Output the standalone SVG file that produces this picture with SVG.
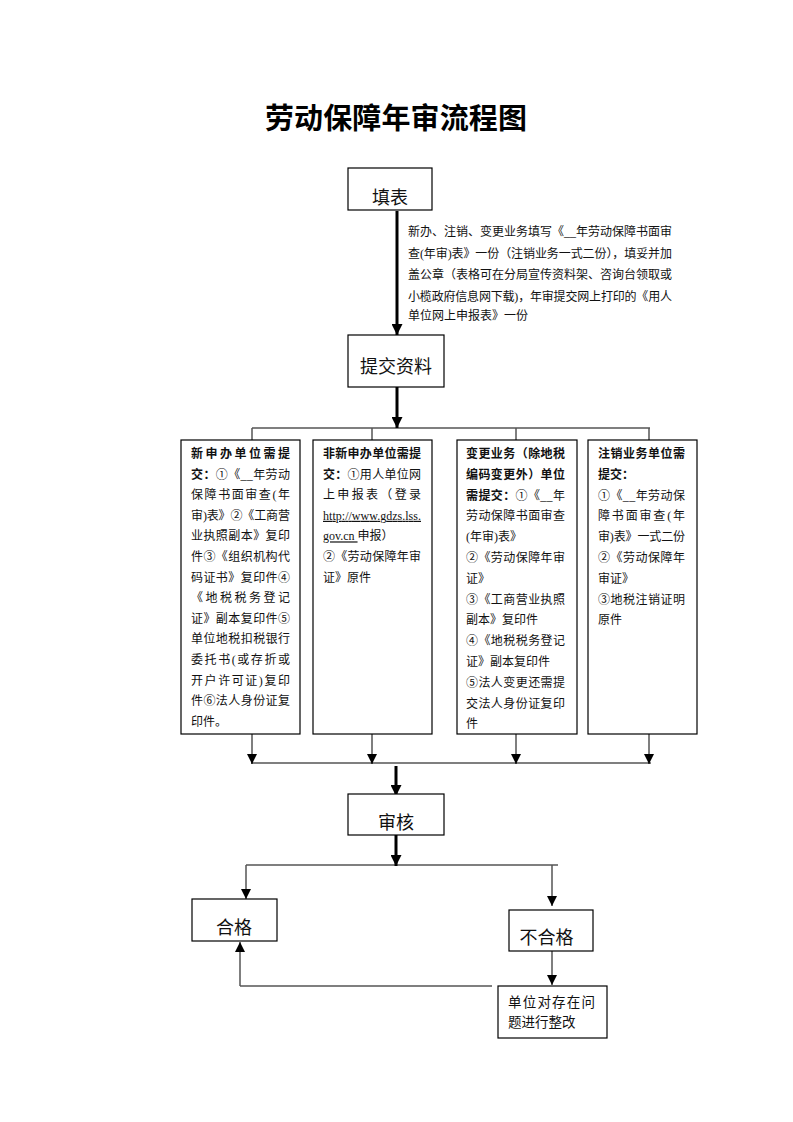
<svg xmlns="http://www.w3.org/2000/svg" width="793" height="1122" viewBox="0 0 793 1122">
<style>
.bg{fill:#fff}
.box{fill:#fff;stroke:#000;stroke-width:1.2}
.t{font-family:"Liberation Serif","Noto Sans CJK SC",serif;fill:#111}
.big{font-size:18px}
.s{font-size:12px}
.b{font-weight:bold}
.title{font-family:"Noto Sans CJK SC",sans-serif;font-size:29px;font-weight:bold;fill:#000}
.thick{stroke:#000;stroke-width:3;fill:none}
.thin{stroke:#000;stroke-width:1.2;fill:none}
.gray{stroke:#555;stroke-width:1.5;fill:none}
</style>
<defs>
<marker id="ah" markerUnits="userSpaceOnUse" markerWidth="10" markerHeight="10" viewBox="0 0 10 10" refX="10" refY="5" orient="auto">
<path d="M0,0 L10,5 L0,10 Z" fill="#000"/>
</marker>
<marker id="ahT" markerUnits="userSpaceOnUse" markerWidth="11" markerHeight="11" viewBox="0 0 10 10" refX="10" refY="5" orient="auto">
<path d="M0,0 L10,5 L0,10 Z" fill="#000"/>
</marker>
</defs>
<rect class="bg" width="793" height="1122"/>

<text class="title" x="265" y="129" textLength="262" lengthAdjust="spacing">劳动保障年审流程图</text>

<g id="connectors">
<line class="thick" x1="397" y1="211" x2="397" y2="335" marker-end="url(#ahT)"/>
<line class="thick" x1="397" y1="387" x2="397" y2="428" marker-end="url(#ahT)"/>
<line class="thin" x1="252" y1="428" x2="650" y2="428"/>
<line class="gray" x1="252" y1="428" x2="252" y2="440"/>
<line class="gray" x1="372" y1="428" x2="372" y2="440"/>
<line class="gray" x1="516" y1="428" x2="516" y2="440"/>
<line class="gray" x1="649" y1="428" x2="649" y2="440"/>
<line class="gray" x1="252" y1="734" x2="252" y2="764" marker-end="url(#ah)"/>
<line class="gray" x1="372" y1="734" x2="372" y2="764" marker-end="url(#ah)"/>
<line class="gray" x1="516" y1="734" x2="516" y2="764" marker-end="url(#ah)"/>
<line class="gray" x1="649" y1="734" x2="649" y2="764" marker-end="url(#ah)"/>
<line class="thin" x1="251" y1="763" x2="651" y2="763"/>
<line class="thick" x1="396" y1="766" x2="396" y2="796" marker-end="url(#ahT)"/>
<line class="thick" x1="396" y1="835" x2="396" y2="866" marker-end="url(#ahT)"/>
<line class="thin" x1="246" y1="865" x2="558" y2="865"/>
<line class="gray" x1="246" y1="865" x2="246" y2="899" marker-end="url(#ah)"/>
<line class="gray" x1="552" y1="865" x2="552" y2="906" marker-end="url(#ah)"/>
<line class="gray" x1="552" y1="945" x2="552" y2="985" marker-end="url(#ah)"/>
<line class="thin" x1="492" y1="986" x2="240" y2="986"/>
<line class="gray" x1="240" y1="986" x2="240" y2="942" marker-end="url(#ah)"/>
</g>

<g id="n-fill">
<rect class="box" x="348" y="168" width="84" height="42"/>
<text class="t big" x="390" y="204" text-anchor="middle">填表</text>
</g>

<g id="n-note">
<text class="t s" x="408" y="236" textLength="264" lengthAdjust="spacing">新办、注销、变更业务填写《__年劳动保障书面审</text>
<text class="t s" x="408" y="257.5" textLength="264" lengthAdjust="spacing">查(年审)表》一份（注销业务一式二份），填妥并加</text>
<text class="t s" x="408" y="279" textLength="264" lengthAdjust="spacing">盖公章（表格可在分局宣传资料架、咨询台领取或</text>
<text class="t s" x="408" y="300.5" textLength="264" lengthAdjust="spacing">小榄政府信息网下载)，年审提交网上打印的《用人</text>
<text class="t s" x="408" y="320">单位网上申报表》一份</text>
</g>

<g id="n-submit">
<rect class="box" x="348" y="335" width="96" height="52"/>
<text class="t big" x="396" y="373" text-anchor="middle">提交资料</text>
</g>

<g id="n-box1">
<rect class="box" x="181" y="440" width="119" height="294"/>
<text class="t s b" x="191" y="458" textLength="99" lengthAdjust="spacing">新申办单位需提</text>
<text class="t s" x="191" y="478.6" textLength="99" lengthAdjust="spacing"><tspan class="b">交：</tspan>①《__年劳动</text>
<text class="t s" x="191" y="499.2" textLength="99" lengthAdjust="spacing">保障书面审查(年</text>
<text class="t s" x="191" y="519.8" textLength="99" lengthAdjust="spacing">审)表》②《工商营</text>
<text class="t s" x="191" y="540.4" textLength="99" lengthAdjust="spacing">业执照副本》复印</text>
<text class="t s" x="191" y="561" textLength="99" lengthAdjust="spacing">件③《组织机构代</text>
<text class="t s" x="191" y="581.6" textLength="99" lengthAdjust="spacing">码证书》复印件④</text>
<text class="t s" x="191" y="602.2" textLength="99" lengthAdjust="spacing">《地税税务登记</text>
<text class="t s" x="191" y="622.8" textLength="99" lengthAdjust="spacing">证》副本复印件⑤</text>
<text class="t s" x="191" y="643.4" textLength="99" lengthAdjust="spacing">单位地税扣税银行</text>
<text class="t s" x="191" y="664" textLength="99" lengthAdjust="spacing">委托书(或存折或</text>
<text class="t s" x="191" y="684.6" textLength="99" lengthAdjust="spacing">开户许可证)复印</text>
<text class="t s" x="191" y="705.2" textLength="99" lengthAdjust="spacing">件⑥法人身份证复</text>
<text class="t s" x="191" y="725.8">印件。</text>
</g>

<g id="n-box2">
<rect class="box" x="313" y="440" width="119" height="294"/>
<text class="t s b" x="323" y="458" textLength="98" lengthAdjust="spacing">非新申办单位需提</text>
<text class="t s" x="323" y="478.6" textLength="98" lengthAdjust="spacing"><tspan class="b">交：</tspan>①用人单位网</text>
<text class="t s" x="323" y="499.2" textLength="98" lengthAdjust="spacing">上申报表（登录</text>
<text class="t s" x="323" y="519.8" textLength="98" lengthAdjust="spacing" text-decoration="underline">http://www.gdzs.lss.</text>
<text class="t s" x="323" y="540.4"><tspan text-decoration="underline">gov.cn </tspan>申报）</text>
<text class="t s" x="323" y="561" textLength="98" lengthAdjust="spacing">②《劳动保障年审</text>
<text class="t s" x="323" y="581.6">证》原件</text>
</g>

<g id="n-box3">
<rect class="box" x="457" y="440" width="120" height="294"/>
<text class="t s b" x="466" y="458" textLength="99" lengthAdjust="spacing">变更业务（除地税</text>
<text class="t s b" x="466" y="478.8" textLength="99" lengthAdjust="spacing">编码变更外）单位</text>
<text class="t s" x="466" y="499.6" textLength="99" lengthAdjust="spacing"><tspan class="b">需提交：</tspan>①《__年</text>
<text class="t s" x="466" y="520.4" textLength="99" lengthAdjust="spacing">劳动保障书面审查</text>
<text class="t s" x="466" y="541.2">(年审)表》</text>
<text class="t s" x="466" y="562" textLength="99" lengthAdjust="spacing">②《劳动保障年审</text>
<text class="t s" x="466" y="582.8">证》</text>
<text class="t s" x="466" y="603.6" textLength="99" lengthAdjust="spacing">③《工商营业执照</text>
<text class="t s" x="466" y="624.4">副本》复印件</text>
<text class="t s" x="466" y="645.2" textLength="99" lengthAdjust="spacing">④《地税税务登记</text>
<text class="t s" x="466" y="666">证》副本复印件</text>
<text class="t s" x="466" y="686.8" textLength="99" lengthAdjust="spacing">⑤法人变更还需提</text>
<text class="t s" x="466" y="707.6" textLength="99" lengthAdjust="spacing">交法人身份证复印</text>
<text class="t s" x="466" y="728.4">件</text>
</g>

<g id="n-box4">
<rect class="box" x="588" y="440" width="109" height="294"/>
<text class="t s b" x="598" y="458" textLength="87" lengthAdjust="spacing">注销业务单位需</text>
<text class="t s b" x="598" y="478.8">提交：</text>
<text class="t s" x="598" y="499.6" textLength="87" lengthAdjust="spacing">①《__年劳动保</text>
<text class="t s" x="598" y="520.4" textLength="87" lengthAdjust="spacing">障书面审查(年</text>
<text class="t s" x="598" y="541.2" textLength="87" lengthAdjust="spacing">审)表》一式二份</text>
<text class="t s" x="598" y="562" textLength="87" lengthAdjust="spacing">②《劳动保障年</text>
<text class="t s" x="598" y="582.8">审证》</text>
<text class="t s" x="598" y="603.6" textLength="87" lengthAdjust="spacing">③地税注销证明</text>
<text class="t s" x="598" y="624.4">原件</text>
</g>

<g id="n-review">
<rect class="box" x="348" y="794" width="96" height="41"/>
<text class="t big" x="396" y="829" text-anchor="middle">审核</text>
</g>

<g id="n-pass">
<rect class="box" x="192" y="899" width="85" height="42"/>
<text class="t big" x="234" y="934" text-anchor="middle">合格</text>
</g>

<g id="n-fail">
<rect class="box" x="509" y="910" width="84" height="41"/>
<text class="t big" x="546.5" y="944" text-anchor="middle">不合格</text>
</g>

<g id="n-fix">
<rect class="box" x="498" y="986" width="109" height="52"/>
<text class="t" font-size="13.5" x="508" y="1007" textLength="87" lengthAdjust="spacing">单位对存在问</text>
<text class="t" font-size="13.5" x="508" y="1027">题进行整改</text>
</g>
</svg>
